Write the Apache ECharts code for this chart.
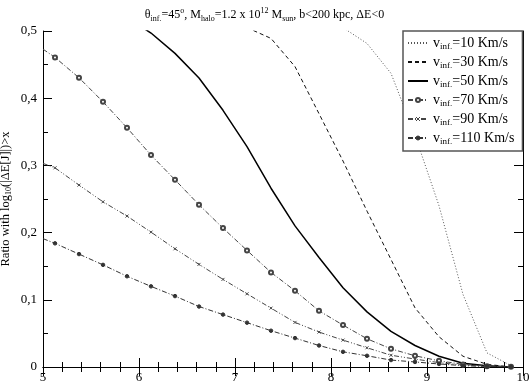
<!DOCTYPE html>
<html>
<head>
<meta charset="utf-8">
<script src="https://cdn.jsdelivr.net/npm/echarts@6/dist/echarts.min.js"></script>
<style>
  html, body { margin: 0; padding: 0; background: #fff; }
  #chart { width: 529px; height: 392px; }
</style>
</head>
<body>
<div id="chart"></div>
<script>
// x positions of the points (bin centres), first one is the left edge
const xs = [5.0, 5.125, 5.375, 5.625, 5.875, 6.125, 6.375, 6.625, 6.875, 7.125, 7.375,
  7.625, 7.875, 8.125, 8.375, 8.625, 8.875, 9.125, 9.375, 9.625, 9.875]

const v10 = [null, null, null, null, null, null, null, null, null, null, null, null, null,
  0.505, 0.4815, 0.437, 0.345, 0.240, 0.108, 0.021, 0.002]
const v30 = [null, null, null, null, null, null, null, null, null,
  0.505, 0.489, 0.447, 0.377, 0.3065, 0.232, 0.16, 0.088, 0.045, 0.016, 0.004, 0.0]
const v50 = [null, null, null, null,
  0.52, 0.497, 0.4667, 0.43, 0.382, 0.328, 0.266, 0.21, 0.163, 0.118, 0.082, 0.053, 0.032, 0.016, 0.0055, 0.0018, 0.0]
const v70 = [0.473, 0.4607, 0.4304, 0.3946, 0.356, 0.3153, 0.2786, 0.2414, 0.2067, 0.1735, 0.1408,
  0.1134, 0.0836, 0.0624, 0.042, 0.027, 0.0167, 0.0092, 0.0039, 0.0013, 0.0003]
const v90 = [0.303, 0.2964, 0.2707, 0.2458, 0.2246, 0.2007, 0.1759, 0.1527, 0.1304, 0.1089, 0.0876,
  0.0664, 0.052, 0.040, 0.0286, 0.0175, 0.0118, 0.0065, 0.0028, 0.001, 0.0002]
const v110 = [0.191, 0.184, 0.168, 0.152, 0.135, 0.120, 0.1055, 0.090, 0.078, 0.066, 0.054,
  0.043, 0.032, 0.0226, 0.0167, 0.0103, 0.0075, 0.0045, 0.002, 0.0008, 0.0001]

const speeds = ['10', '30', '50', '70', '90', '110']
const xTicks = [5, 6, 7, 8, 9, 10]

const FONT = 'Liberation Serif'
const titleRich = {
  sub: { fontFamily: FONT, fontSize: 8, color: '#000', padding: [7, 0, 0, 0] },
  sup: { fontFamily: FONT, fontSize: 8, color: '#000', padding: [0, 0, 8, 0] }
}
const legendRich = {
  sub: { fontFamily: FONT, fontSize: 9, color: '#000', padding: [7, 0, 0, 0] }
}

function pairs(vals) {
  const out = []
  vals.forEach((v, i) => {
    if (v === null) return
    // left-edge point has no marker
    out.push(xs[i] === 5.0 ? { value: [xs[i], v], symbol: 'none' } : [xs[i], v])
  })
  return out
}

const styles = [
  { data: v10, line: { type: [1, 2], width: 1, color: '#555' }, symbol: 'none' },
  { data: v30, line: { type: [4, 3], width: 1, color: '#111' }, symbol: 'none' },
  { data: v50, line: { type: 'solid', width: 1.5, color: '#000' }, symbol: 'none' },
  { data: v70, line: { type: [5, 2, 1, 2], width: 1, color: '#444' }, symbol: 'emptyCircle', size: 4 },
  { data: v90, line: { type: [5, 2, 1, 2, 1, 2], width: 1, color: '#444' }, symbol: 'path://M0,0L4,4M4,0L0,4', size: 3 },
  { data: v110, line: { type: [5, 2, 1, 2], width: 1, color: '#333' }, symbol: 'circle', size: 3.5 }
]

const names = speeds.map(s => 'v_inf.=' + s + ' Km/s')

const series = styles.map((s, i) => ({
  name: names[i],
  type: 'line',
  data: pairs(s.data),
  symbol: s.symbol,
  symbolSize: s.size || 4,
  showSymbol: s.symbol !== 'none',
  lineStyle: s.line,
  itemStyle: { color: s.line.color, borderColor: s.line.color, borderWidth: 1 },
  animation: false
}))

const chart = echarts.init(document.getElementById('chart'))
chart.setOption({
  animation: false,
  title: {
    text: '\u03b8{sub|inf.}=45{sup|o}, M{sub|halo}=1.2 x 10{sup|12} M{sub|sun}, b<200 kpc, \u0394E<0',
    left: 'center',
    top: 2,
    textStyle: { fontFamily: FONT, fontSize: 12, fontWeight: 'normal', color: '#000', rich: titleRich }
  },
  grid: { left: 43, right: 6, top: 31, bottom: 25, containLabel: false, outerBoundsMode: 'none' },
  legend: {
    orient: 'vertical',
    left: 403,
    top: 31,
    padding: [5, 8, 5, 4],
    itemGap: 4,
    itemWidth: 20,
    itemHeight: 5,
    borderColor: '#555',
    borderWidth: 1.5,
    backgroundColor: '#fff',
    data: names.map((n, i) => styles[i].symbol === 'none'
      ? { name: n, itemStyle: { opacity: 0 } }
      : { name: n, itemStyle: { borderWidth: 1 } }),
    formatter: name => 'v{sub|inf.}=' + name.split('=')[1],
    textStyle: { fontFamily: FONT, fontSize: 14, color: '#000', rich: legendRich }
  },
  xAxis: [
    {
      type: 'value', min: 5, max: 10, interval: 1,
      name: 'x', nameLocation: 'middle', nameGap: 14,
      nameTextStyle: { fontFamily: FONT, fontSize: 13, color: '#000' },
      axisLine: { lineStyle: { color: '#000', width: 1 } },
      axisTick: { inside: true, length: 9, lineStyle: { color: '#000' } },
      minorTick: { show: true, splitNumber: 5, length: 5, lineStyle: { color: '#000' } },
      splitLine: { show: false },
      axisLabel: {
        margin: 4, fontFamily: FONT, fontSize: 13, color: '#000',
        formatter: v => xTicks.includes(v) ? String(v) : ''
      }
    },
    {
      type: 'value', min: 5, max: 10, interval: 1, position: 'top',
      axisLine: { lineStyle: { color: '#000', width: 1 } },
      axisTick: { inside: true, length: 9, lineStyle: { color: '#000' } },
      minorTick: { show: true, splitNumber: 5, length: 5, lineStyle: { color: '#000' } },
      splitLine: { show: false },
      axisLabel: { show: false }
    }
  ],
  yAxis: [
    {
      type: 'value', min: 0, max: 0.5, interval: 0.1,
      name: 'Ratio with log{sub|10}(|\u0394E[J]|)>x', nameLocation: 'middle', nameGap: 30, nameRotate: 90,
      nameMoveOverlap: false,
      nameTextStyle: { fontFamily: FONT, fontSize: 12.5, color: '#000', rich: {
        sub: { fontFamily: FONT, fontSize: 8, color: '#000', padding: [6, 0, 0, 0] }
      } },
      axisLine: { lineStyle: { color: '#000', width: 1 } },
      axisTick: { inside: true, length: 9, lineStyle: { color: '#000' } },
      minorTick: { show: true, splitNumber: 2, length: 5, lineStyle: { color: '#000' } },
      splitLine: { show: false },
      axisLabel: {
        margin: 6, fontFamily: FONT, fontSize: 13, color: '#000',
        formatter: v => v === 0 ? '0' : v.toFixed(1).replace('.', ',')
      }
    },
    {
      type: 'value', min: 0, max: 0.5, interval: 0.1, position: 'right',
      axisLine: { show: true, lineStyle: { color: '#000', width: 1 } },
      axisTick: { show: true, inside: true, length: 9, lineStyle: { color: '#000' } },
      minorTick: { show: true, splitNumber: 2, length: 5, lineStyle: { color: '#000' } },
      splitLine: { show: false },
      axisLabel: { show: false }
    }
  ],
  series: series
})
</script>
</body>
</html>
